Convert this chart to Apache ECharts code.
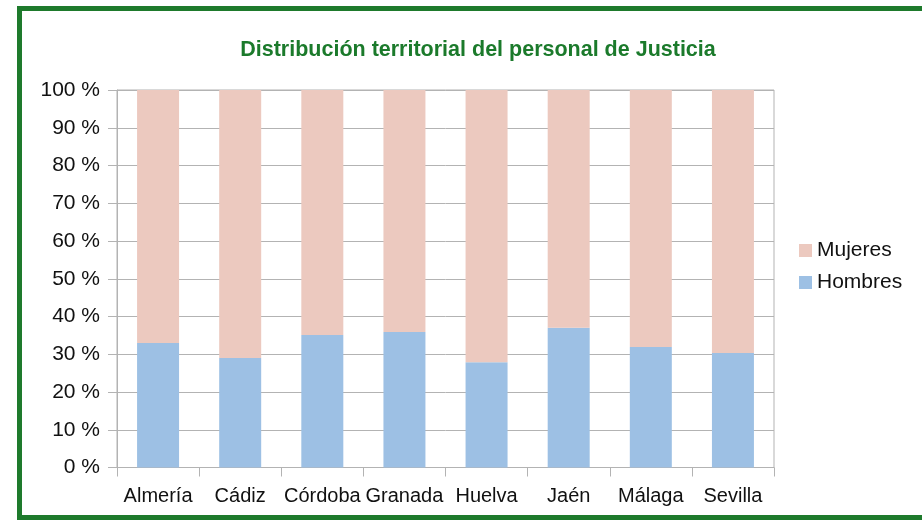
<!DOCTYPE html>
<html>
<head>
<meta charset="utf-8">
<script src="https://cdn.jsdelivr.net/npm/echarts@6/dist/echarts.min.js"></script>
<style>
html,body{margin:0;padding:0;background:#fff;}
#c{width:922px;height:520px;}
</style>
</head>
<body>
<div id="c"></div>
<script>
var categories = ['Almería','Cádiz','Córdoba','Granada','Huelva','Jaén','Málaga','Sevilla'];
var hombres = [33.0, 29.0, 35.1, 35.9, 27.9, 37.0, 31.9, 30.3];
var mujeres = [67.0, 71.0, 64.9, 64.1, 72.1, 63.0, 68.1, 69.7];
var yTicks = [0,10,20,30,40,50,60,70,80,90,100];

var chart = echarts.init(document.getElementById('c'), null, {renderer:'canvas'});
var font = 'Liberation Sans, Arial, sans-serif';
chart.setOption({
  animation:false,
  textStyle:{fontFamily:font},
  title:{
    text:'Distribución territorial del personal de Justicia',
    left:473, top:34, textAlign:'center',
    textStyle:{color:'#1b7a2b', fontSize:21.5, fontWeight:'bold', fontFamily:font}
  },
  graphic:[{
    type:'rect', silent:true, z:-1,
    shape:{x:19.5, y:8.5, width:1000, height:509},
    style:{fill:'none', stroke:'#1e7a2c', lineWidth:5}
  }],
  legend:{
    data:['Mujeres','Hombres'],
    orient:'vertical', left:799, top:240, padding:0,
    itemWidth:13, itemHeight:13, itemGap:11,
    icon:'rect',
    textStyle:{fontSize:21, color:'#111', fontFamily:font}
  },
  grid:{left:117, right:148, top:90, bottom:52.5, show:true, borderColor:'#b3b3b3', borderWidth:1},
  xAxis:{
    type:'category', data:categories,
    axisLine:{lineStyle:{color:'#b3b3b3', width:1}},
    axisTick:{show:true, length:9, lineStyle:{color:'#b3b3b3'}},
    axisLabel:{color:'#111', fontSize:20, margin:19, fontFamily:font, interval:0}
  },
  yAxis:{
    type:'value', min:0, max:100, interval:10,
    axisLine:{show:true, lineStyle:{color:'#b3b3b3'}},
    axisTick:{show:true, length:9, lineStyle:{color:'#b3b3b3'}},
    splitLine:{lineStyle:{color:'#b3b3b3'}},
    axisLabel:{color:'#111', fontSize:21, margin:17, fontFamily:font, formatter:'{value} %'}
  },
  series:[
    {name:'Hombres', type:'bar', stack:'a', data:hombres, barWidth:42, itemStyle:{color:'#9dc0e4'}},
    {name:'Mujeres', type:'bar', stack:'a', data:mujeres, barWidth:42, itemStyle:{color:'#ecc9bf'}}
  ]
});
</script>
</body>
</html>
